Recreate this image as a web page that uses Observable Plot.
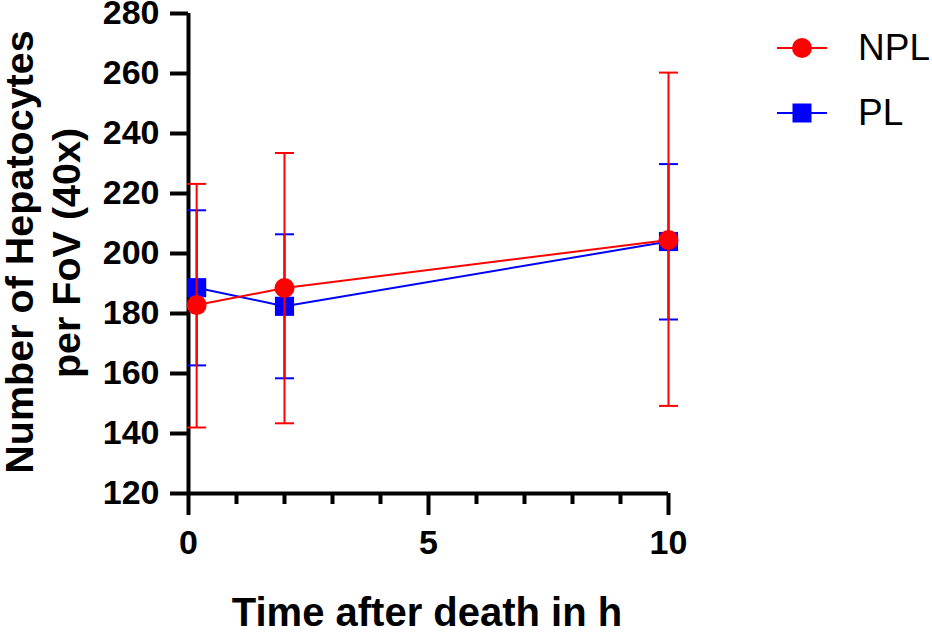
<!DOCTYPE html>
<html>
<head>
<meta charset="utf-8">
<script src="https://cdn.jsdelivr.net/npm/d3@7"></script>
<script src="https://cdn.jsdelivr.net/npm/@observablehq/plot@0.6"></script>
<style>
  html, body { margin: 0; padding: 0; background: #fff; }
  #wrap { position: relative; width: 932px; height: 632px; font-family: "Liberation Sans", Arial, sans-serif; }
  #legend { position: absolute; left: 775px; top: 15px; }
  .item { display: flex; align-items: center; height: 65px; }
  .item span { font-size: 37px; margin-left: 29px; color: #000; }
</style>
</head>
<body>
<div id="wrap"></div>
<script>
const time = [0.17, 2, 10];
const series = ["NPL", "PL"];
const nplMean = [182.8, 188.5, 204.5];
const nplUpper = [223.2, 233.5, 260.3];
const nplLower = [142.0, 143.4, 149.2];
const plMean = [188.6, 182.4, 204.0];
const plUpper = [214.4, 206.4, 229.8];
const plLower = [162.7, 158.4, 178.0];
const yTicks = [120, 140, 160, 180, 200, 220, 240, 260, 280];
const xMajor = [0, 5, 10];
const xMinor = [1, 2, 3, 4, 6, 7, 8, 9];
const colors = {NPL: "#ff0000", PL: "#0000ff"};

const rows = [];
time.forEach((t, i) => {
  rows.push({series: "PL", t, mean: plMean[i], lo: plLower[i], hi: plUpper[i]});
});
time.forEach((t, i) => {
  rows.push({series: "NPL", t, mean: nplMean[i], lo: nplLower[i], hi: nplUpper[i]});
});
const pl = rows.filter(d => d.series === "PL");
const npl = rows.filter(d => d.series === "NPL");

const capSymbol = {draw(ctx) { ctx.moveTo(-9.5, 0); ctx.lineTo(9.5, 0); }};
const font = '"Liberation Sans", Arial, sans-serif';

function seriesMarks(data, symbol, r) {
  const c = colors[data[0].series];
  return [
    Plot.ruleX(data, {x: "t", y1: "lo", y2: "hi", stroke: c, strokeWidth: 2}),
    Plot.dot(data, {x: "t", y: "hi", symbol: capSymbol, stroke: c, strokeWidth: 2, r: 5}),
    Plot.dot(data, {x: "t", y: "lo", symbol: capSymbol, stroke: c, strokeWidth: 2, r: 5}),
    Plot.line(data, {x: "t", y: "mean", stroke: c, strokeWidth: 2}),
    Plot.dot(data, {x: "t", y: "mean", symbol, r, fill: c, stroke: "none"})
  ];
}

const chart = Plot.plot({
  width: 932,
  height: 632,
  marginLeft: 188,
  marginRight: 264,
  marginTop: 13,
  marginBottom: 139,
  style: {fontFamily: font, background: "#fff", overflow: "visible"},
  x: {domain: [0, 10], axis: null},
  y: {domain: [120, 280], axis: null},
  marks: [
    Plot.axisY({ticks: yTicks, tickSize: 18, tickPadding: 11, strokeWidth: 4, stroke: "#000",
      fontSize: 34, fontWeight: "bold", fill: "#000", label: null}),
    Plot.axisX({ticks: xMajor, tickSize: 22, tickPadding: 14, strokeWidth: 4, stroke: "#000",
      fontSize: 34, fontWeight: "bold", fill: "#000", label: null}),
    Plot.axisX({ticks: xMinor, tickSize: 11, strokeWidth: 4, stroke: "#000", text: null, label: null}),
    Plot.ruleX([0], {y1: 120, y2: 280, strokeWidth: 4, stroke: "#000"}),
    Plot.ruleY([120], {x1: 0, x2: 10, strokeWidth: 4, stroke: "#000"}),
    ...seriesMarks(pl, "square", 10.8),
    ...seriesMarks(npl, "circle", 10)
  ]
});

const wrap = document.getElementById("wrap");
wrap.appendChild(chart);

// axis titles
const svg = d3.select(chart);
svg.append("text")
  .attr("transform", "translate(33,252) rotate(-90)")
  .attr("text-anchor", "middle")
  .attr("font-size", 39.5).attr("font-weight", "bold").attr("fill", "#000")
  .attr("font-family", font)
  .text("Number of Hepatocytes");
svg.append("text")
  .attr("transform", "translate(80,253) rotate(-90)")
  .attr("text-anchor", "middle")
  .attr("font-size", 39.5).attr("font-weight", "bold").attr("fill", "#000")
  .attr("font-family", font)
  .text("per FoV (40x)");
svg.append("text")
  .attr("x", 427).attr("y", 626)
  .attr("text-anchor", "middle")
  .attr("font-size", 40).attr("font-weight", "bold").attr("fill", "#000")
  .attr("font-family", font)
  .text("Time after death in h");

// legend
const legend = d3.select(wrap).append("div").attr("id", "legend");
series.forEach(s => {
  const item = legend.append("div").attr("class", "item");
  const sw = item.append("svg").attr("width", 54).attr("height", 24);
  sw.append("line").attr("x1", 2).attr("x2", 52).attr("y1", 12).attr("y2", 12)
    .attr("stroke", colors[s]).attr("stroke-width", 2);
  if (s === "NPL") {
    sw.append("circle").attr("cx", 27).attr("cy", 12).attr("r", 10).attr("fill", colors[s]);
  } else {
    sw.append("rect").attr("x", 17.5).attr("y", 2.5).attr("width", 19).attr("height", 19).attr("fill", colors[s]);
  }
  item.append("span").text(s);
});
</script>
</body>
</html>
